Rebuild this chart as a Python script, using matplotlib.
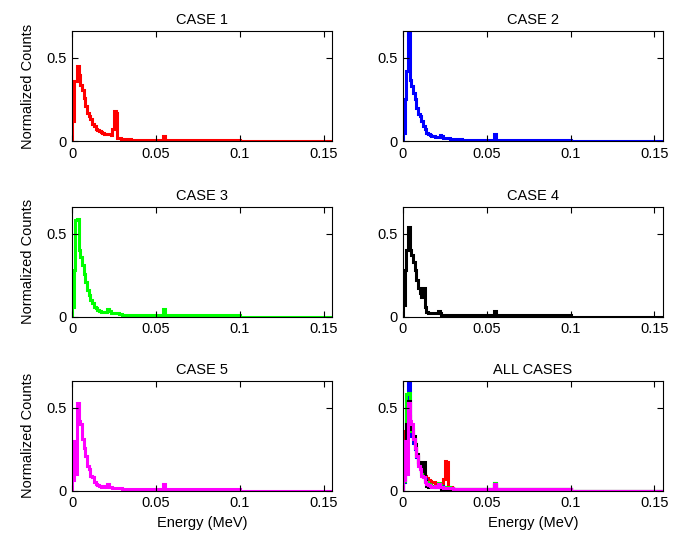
import matplotlib
matplotlib.use("Agg")
import matplotlib.pyplot as plt
import numpy as np

plt.rcParams['font.family'] = ['Liberation Sans', 'DejaVu Sans']

# Bin edges (MeV)
edges = [0.000, 0.001, 0.002, 0.003, 0.004, 0.005, 0.006, 0.007, 0.008, 0.009,
         0.010, 0.011, 0.012, 0.013, 0.014, 0.015, 0.016, 0.017, 0.018, 0.019,
         0.020, 0.021, 0.022, 0.023, 0.024, 0.025, 0.026, 0.027, 0.028, 0.029,
         0.030, 0.035, 0.0545, 0.0555, 0.100, 0.155]

case1 = [0.12, 0.36, 0.36, 0.45, 0.40, 0.34, 0.31, 0.26, 0.21, 0.17,
         0.15, 0.13, 0.10, 0.09, 0.075, 0.065, 0.06, 0.055, 0.05, 0.045,
         0.045, 0.04, 0.04, 0.035, 0.07, 0.18, 0.17, 0.02, 0.02, 0.015,
         0.01, 0.008, 0.03, 0.008, 0.0]
case2 = [0.05, 0.25, 0.42, 0.75, 0.37, 0.33, 0.29, 0.25, 0.20, 0.16,
         0.15, 0.12, 0.09, 0.07, 0.05, 0.04, 0.035, 0.03, 0.03, 0.025,
         0.025, 0.025, 0.035, 0.03, 0.02, 0.02, 0.02, 0.02, 0.015, 0.015,
         0.012, 0.008, 0.045, 0.008, 0.0]
case3 = [0.06, 0.28, 0.58, 0.59, 0.40, 0.36, 0.31, 0.26, 0.21, 0.16,
         0.13, 0.10, 0.08, 0.06, 0.05, 0.04, 0.035, 0.03, 0.03, 0.03,
         0.03, 0.045, 0.035, 0.025, 0.02, 0.02, 0.02, 0.02, 0.015, 0.015,
         0.012, 0.008, 0.045, 0.008, 0.0]
case4 = [0.07, 0.28, 0.40, 0.54, 0.40, 0.37, 0.33, 0.28, 0.22, 0.17,
         0.14, 0.12, 0.17, 0.06, 0.03, 0.025, 0.02, 0.02, 0.02, 0.02,
         0.02, 0.035, 0.02, 0.012, 0.01, 0.01, 0.01, 0.01, 0.01, 0.01,
         0.012, 0.008, 0.035, 0.008, 0.0]
case5 = [0.065, 0.30, 0.10, 0.53, 0.42, 0.40, 0.31, 0.26, 0.21, 0.15,
         0.13, 0.09, 0.08, 0.05, 0.04, 0.035, 0.03, 0.025, 0.025, 0.03,
         0.02, 0.04, 0.02, 0.02, 0.015, 0.015, 0.015, 0.015, 0.015, 0.015,
         0.012, 0.008, 0.04, 0.008, 0.0]

titles = ["CASE 1", "CASE 2", "CASE 3", "CASE 4", "CASE 5", "ALL CASES"]
series = [case1, case2, case3, case4, case5]
colors = ["#ff0000", "#0000ff", "#00ff00", "#000000", "#ff00ff"]

xticks = [0, 0.05, 0.1, 0.15]
xticklabels = ["0", "0.05", "0.1", "0.15"]
yticks = [0, 0.5]
yticklabels = ["0", "0.5"]

fig = plt.figure(figsize=(6.84, 5.44), dpi=100)
lefts = [0.1053, 0.589]
bottoms = [0.7408, 0.4178, 0.098]
w, h = 0.380, 0.2015

for i, title in enumerate(titles):
    r, c = divmod(i, 2)
    ax = fig.add_axes([lefts[c], bottoms[r], w, h])
    if i < 5:
        ax.stairs(series[i], edges, color=colors[i], linewidth=2.2)
    else:
        for s, col in zip(series, colors):
            ax.stairs(s, edges, color=col, linewidth=2.2)
    ax.set_xlim(0, 0.155)
    ax.set_ylim(0, 0.66)
    ax.set_xticks(xticks)
    ax.set_xticklabels(xticklabels)
    ax.set_yticks(yticks)
    ax.set_yticklabels(yticklabels)
    ax.tick_params(direction='in', length=4, width=0.8, top=True, right=True,
                   labelsize=10.5, pad=4)
    for sp in ax.spines.values():
        sp.set_linewidth(0.8)
    ax.set_title(title, fontsize=10.5, pad=5)
    if c == 0:
        ax.set_ylabel("Normalized Counts", fontsize=10.5, labelpad=8)
    if r == 2:
        ax.set_xlabel("Energy (MeV)", fontsize=10.5)

fig.savefig("out.png", dpi=100)
